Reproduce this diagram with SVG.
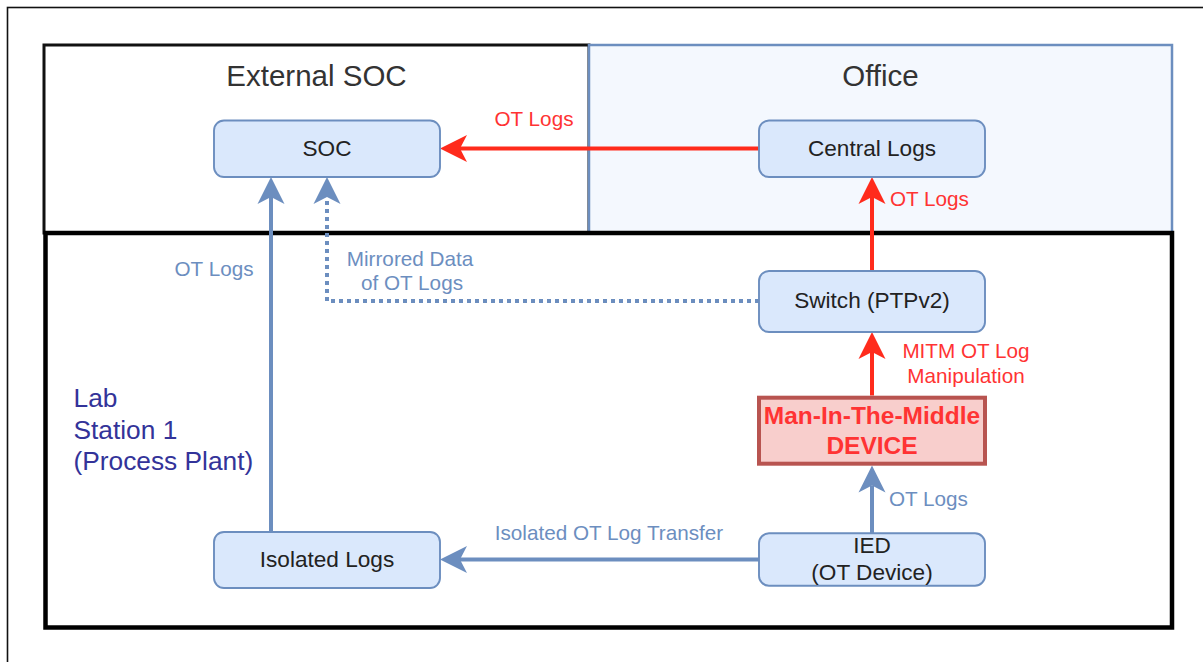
<svg xmlns="http://www.w3.org/2000/svg" width="1203" height="662" viewBox="0 0 1203 662">
<style>
text{font-family:"Liberation Sans",Arial,Helvetica,sans-serif}
.title{font-size:29.5px;fill:#333;text-anchor:middle}
.node{fill:#dae8fc;stroke:#6c8ebf;stroke-width:1.9}
.ntext{font-size:22.6px;fill:#222;text-anchor:middle}
.red{stroke:#ff2b1c;stroke-width:4;fill:none}
.blue{stroke:#6c8ebf;stroke-width:4;fill:none}
.dot{stroke:#6c8ebf;stroke-width:4;fill:none;stroke-dasharray:4 4}
.lr{font-size:20.7px;fill:#ff3333}
.lb{font-size:20.7px;fill:#6c8ebf}
</style>
<defs>
<marker id="arrRed" markerUnits="userSpaceOnUse" markerWidth="28" markerHeight="28" viewBox="0 0 28 28" refX="7" refY="14" orient="auto"><path d="M0,0.5 L27,14 L0,27.5 L7,14 Z" fill="#ff2b1c"/></marker>
<marker id="arrBlue" markerUnits="userSpaceOnUse" markerWidth="28" markerHeight="28" viewBox="0 0 28 28" refX="7" refY="14" orient="auto"><path d="M0,0.5 L27,14 L0,27.5 L7,14 Z" fill="#6c8ebf"/></marker>
</defs>
<rect x="0" y="0" width="1203" height="662" fill="#fff"/>
<rect x="7.5" y="7.5" width="1205" height="665" fill="none" stroke="#111" stroke-width="1.6"/>
<g id="external-soc">
<rect x="44" y="45" width="545" height="188" fill="#fff" stroke="#111" stroke-width="3"/>
<text class="title" x="316.5" y="86">External SOC</text>
</g>
<g id="office">
<rect x="589" y="45" width="583" height="188" fill="#f4f8fe" stroke="#6c8ebf" stroke-width="2.5"/>
<text class="title" x="880.5" y="86">Office</text>
</g>
<g id="lab">
<rect x="45.5" y="233" width="1126.5" height="394.5" fill="none" stroke="#000" stroke-width="4.5"/>
<text x="73.5" y="407" font-size="26.3" fill="#333399">Lab</text>
<text x="73.5" y="438.5" font-size="26.3" fill="#333399">Station 1</text>
<text x="73.5" y="470" font-size="26.3" fill="#333399">(Process Plant)</text>
</g>
<g id="connectors">
<path class="red" d="M759,148.5 H460" marker-end="url(#arrRed)"/>
<path class="red" d="M872,271 V197" marker-end="url(#arrRed)"/>
<path class="red" d="M872,395.5 V352" marker-end="url(#arrRed)"/>
<path class="blue" d="M872,533 V485.5" marker-end="url(#arrBlue)"/>
<path class="blue" d="M759,559.5 H460" marker-end="url(#arrBlue)"/>
<path class="blue" d="M271,532 V197" marker-end="url(#arrBlue)"/>
<path class="dot" d="M759,301 H327 V197" marker-end="url(#arrBlue)"/>
<text class="lr" x="534" y="126" text-anchor="middle">OT Logs</text>
<text class="lr" x="890" y="206">OT Logs</text>
<text class="lb" x="253.5" y="276" text-anchor="end">OT Logs</text>
<text class="lb" x="410" y="265.5" text-anchor="middle">Mirrored Data</text>
<text class="lb" x="412" y="290" text-anchor="middle">of OT Logs</text>
<text class="lr" x="966" y="358" text-anchor="middle">MITM OT Log</text>
<text class="lr" x="966" y="382.5" text-anchor="middle">Manipulation</text>
<text class="lb" x="889" y="506">OT Logs</text>
<text class="lb" x="609" y="539.5" text-anchor="middle">Isolated OT Log Transfer</text>
</g>
<g id="soc">
<rect class="node" x="214" y="120.5" width="226" height="56.5" rx="10"/>
<text class="ntext" x="327" y="156">SOC</text>
</g>
<g id="central-logs">
<rect class="node" x="759" y="120.5" width="226" height="56.5" rx="10"/>
<text class="ntext" x="872" y="156">Central Logs</text>
</g>
<g id="switch">
<rect class="node" x="759" y="271" width="226" height="61" rx="10"/>
<text class="ntext" x="872" y="308">Switch (PTPv2)</text>
</g>
<g id="mitm">
<rect x="759" y="397.7" width="226" height="66" fill="#f8cecc" stroke="#b85450" stroke-width="4"/>
<text x="872" y="424" font-size="24.5" font-weight="bold" fill="#ff3333" text-anchor="middle">Man-In-The-Middle</text>
<text x="872" y="454" font-size="24.5" font-weight="bold" fill="#ff3333" text-anchor="middle">DEVICE</text>
</g>
<g id="ied">
<rect class="node" x="759" y="533.3" width="226" height="52.4" rx="10"/>
<text class="ntext" x="872" y="553">IED</text>
<text class="ntext" x="872" y="580">(OT Device)</text>
</g>
<g id="isolated-logs">
<rect class="node" x="214" y="532" width="226" height="56" rx="10"/>
<text class="ntext" x="327" y="567">Isolated Logs</text>
</g>
</svg>
